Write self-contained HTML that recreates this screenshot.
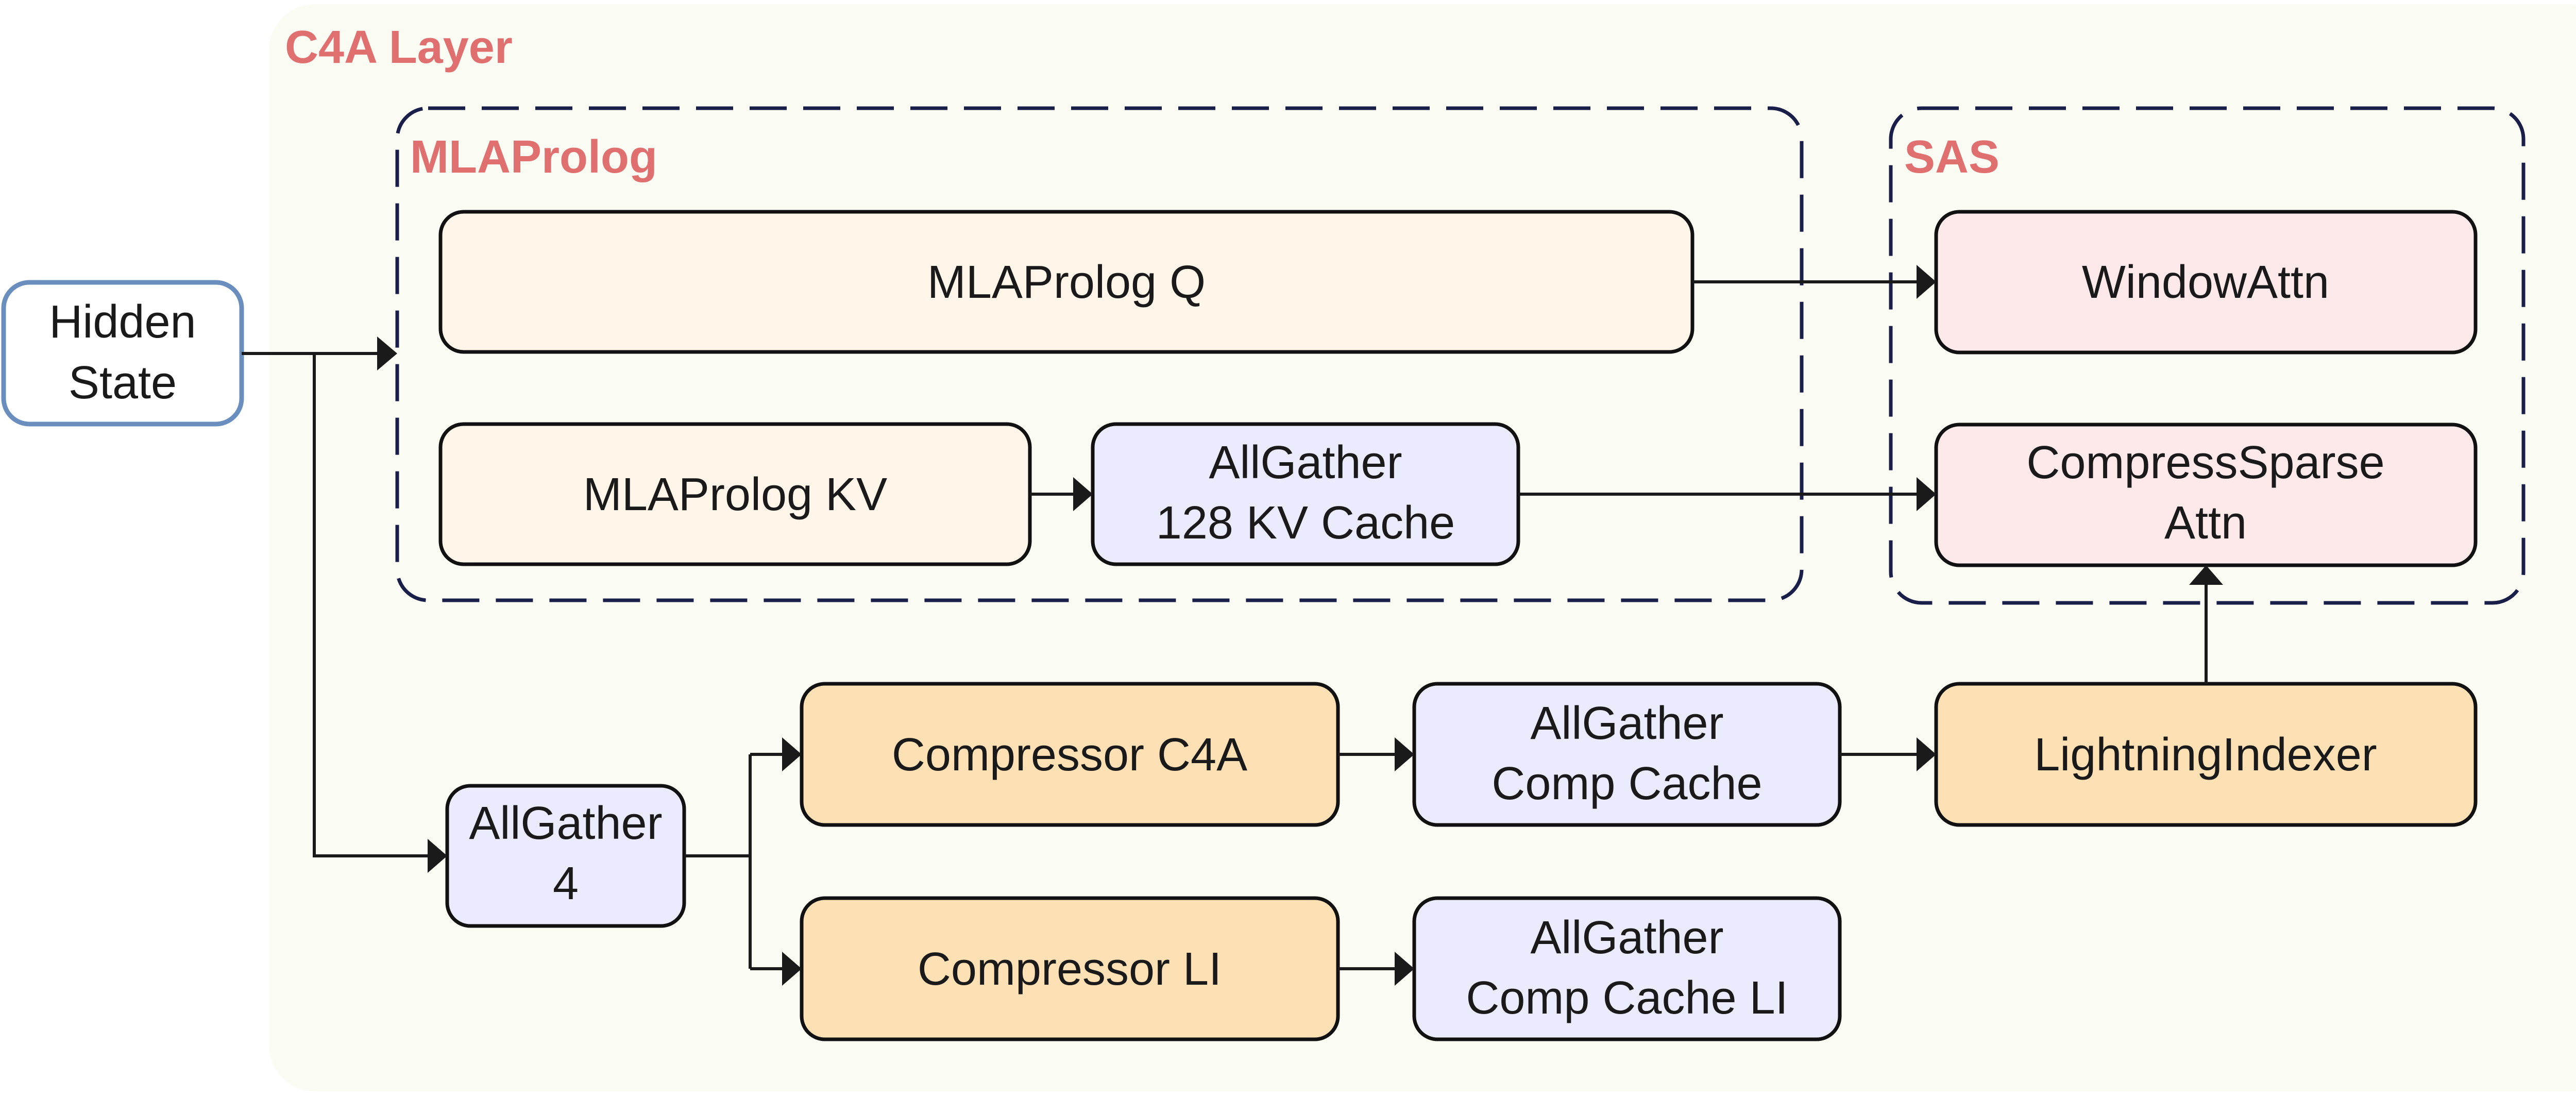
<!DOCTYPE html>
<html><head><meta charset="utf-8"><style>html,body{margin:0;padding:0;background:#fff}svg{display:block}</style></head>
<body>
<svg width="5039" height="2127" viewBox="0 0 5039 2127" xmlns="http://www.w3.org/2000/svg" font-family="Liberation Sans, sans-serif">
<rect x="0" y="0" width="5039" height="2127" fill="#ffffff"/>
<rect x="522" y="8" width="4560" height="2110" rx="90" fill="#fafcf4"/>
<text x="553" y="122" font-size="90" font-weight="bold" fill="#e07070">C4A Layer</text>

<rect x="771" y="210" width="2726" height="955" rx="60" fill="none" stroke="#1a1f4a" stroke-width="7" stroke-dasharray="72,32"/>
<text x="796" y="335" font-size="90" font-weight="bold" fill="#e07070">MLAProlog</text>
<rect x="3670" y="210" width="1228" height="960" rx="60" fill="none" stroke="#1a1f4a" stroke-width="7" stroke-dasharray="72,32"/>
<text x="3696" y="335" font-size="90" font-weight="bold" fill="#e07070">SAS</text>

<g stroke="#111" stroke-width="7">
<rect x="7" y="548" width="462" height="275" rx="50" fill="#fff" stroke="#6a8fbf" stroke-width="9"/>
<rect x="855" y="411" width="2430" height="272" rx="45" fill="#fff5e9"/>
<rect x="855" y="823" width="1144" height="272" rx="45" fill="#fff5e9"/>
<rect x="2121" y="823" width="826" height="272" rx="45" fill="#eaebfd"/>
<rect x="3758" y="411" width="1047" height="273" rx="45" fill="#fde9ea"/>
<rect x="3758" y="824" width="1047" height="273" rx="45" fill="#fde9ea"/>
<rect x="868" y="1525" width="460" height="272" rx="45" fill="#eaebfd"/>
<rect x="1556" y="1327" width="1041" height="274" rx="45" fill="#fde1b4"/>
<rect x="1556" y="1743" width="1041" height="274" rx="45" fill="#fde1b4"/>
<rect x="2745" y="1327" width="826" height="274" rx="45" fill="#eaebfd"/>
<rect x="2745" y="1743" width="826" height="274" rx="45" fill="#eaebfd"/>
<rect x="3758" y="1327" width="1047" height="274" rx="45" fill="#fde1b4"/>
</g>

<g stroke="#1a1a1a" stroke-width="6" fill="none">
<path d="M469 686 H732"/>
<path d="M610 686 V1661 H830"/>
<path d="M1328 1661 H1456 M1456 1464 V1880 M1456 1464 H1518 M1456 1880 H1518"/>
<path d="M3285 547 H3720"/>
<path d="M1999 959 H2083"/>
<path d="M2947 959 H3720"/>
<path d="M2597 1464 H2707"/>
<path d="M3571 1464 H3720"/>
<path d="M2597 1880 H2707"/>
<path d="M4282 1327 V1135"/>
</g>
<g fill="#1a1a1a">
<polygon points="771,686 732,653 732,719"/>
<polygon points="868,1661 830,1628 830,1694"/>
<polygon points="1556,1464 1518,1431 1518,1497"/>
<polygon points="1556,1880 1518,1847 1518,1913"/>
<polygon points="3758,547 3720,514 3720,580"/>
<polygon points="2121,959 2083,926 2083,992"/>
<polygon points="3758,959 3720,926 3720,992"/>
<polygon points="2745,1464 2707,1431 2707,1497"/>
<polygon points="3758,1464 3720,1431 3720,1497"/>
<polygon points="2745,1880 2707,1847 2707,1913"/>
<polygon points="4282,1097 4249,1135 4315,1135"/>
</g>

<g font-size="90" fill="#1a1a1a" text-anchor="middle">
<text x="238" y="655">Hidden</text>
<text x="238" y="773">State</text>
<text x="2070" y="578">MLAProlog Q</text>
<text x="1427" y="990">MLAProlog KV</text>
<text x="2534" y="928">AllGather</text>
<text x="2534" y="1045">128 KV Cache</text>
<text x="4281" y="578">WindowAttn</text>
<text x="4281" y="928">CompressSparse</text>
<text x="4281" y="1045">Attn</text>
<text x="1098" y="1628">AllGather</text>
<text x="1098" y="1745">4</text>
<text x="2076" y="1495">Compressor C4A</text>
<text x="2076" y="1911">Compressor LI</text>
<text x="3158" y="1434">AllGather</text>
<text x="3158" y="1551">Comp Cache</text>
<text x="3158" y="1850">AllGather</text>
<text x="3158" y="1967">Comp Cache LI</text>
<text x="4281" y="1495">LightningIndexer</text>
</g>
</svg>
</body></html>
